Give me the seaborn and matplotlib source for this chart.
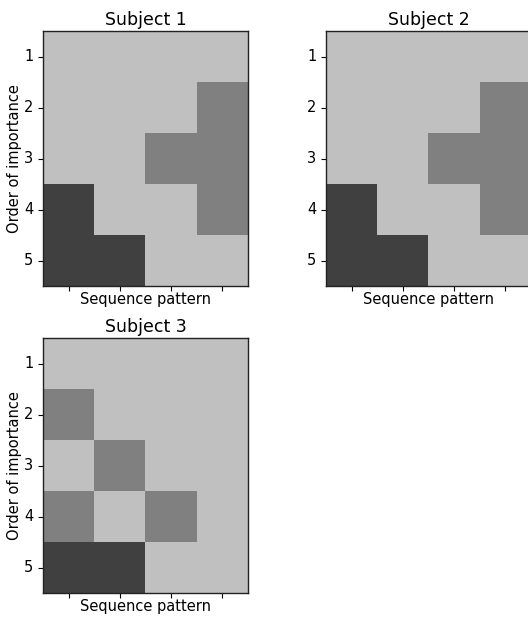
import numpy as np
import pandas as pd
import seaborn as sns
import matplotlib
matplotlib.use("Agg")
import matplotlib.pyplot as plt

# gray level of each cell (rows = order of importance 1..5, cols = sequence pattern)
subject_1 = [[0.75, 0.75, 0.75, 0.75],
             [0.75, 0.75, 0.75, 0.50],
             [0.75, 0.75, 0.50, 0.50],
             [0.25, 0.75, 0.75, 0.50],
             [0.25, 0.25, 0.75, 0.75]]
subject_2 = [[0.75, 0.75, 0.75, 0.75],
             [0.75, 0.75, 0.75, 0.50],
             [0.75, 0.75, 0.50, 0.50],
             [0.25, 0.75, 0.75, 0.50],
             [0.25, 0.25, 0.75, 0.75]]
subject_3 = [[0.75, 0.75, 0.75, 0.75],
             [0.50, 0.75, 0.75, 0.75],
             [0.75, 0.50, 0.75, 0.75],
             [0.50, 0.75, 0.50, 0.75],
             [0.25, 0.25, 0.75, 0.75]]
titles = ["Subject 1", "Subject 2", "Subject 3"]
order_labels = ["1", "2", "3", "4", "5"]

fig = plt.figure(figsize=(5.28, 6.2), dpi=100)
# axes positions in figure fraction (second panel runs off the right edge)
positions = [[0.0814, 0.5387, 0.3883, 0.4113],
             [0.6174, 0.5387, 0.3883, 0.4113],
             [0.0814, 0.0435, 0.3883, 0.4113]]

for i, (data, title) in enumerate(zip([subject_1, subject_2, subject_3], titles)):
    ax = fig.add_axes(positions[i])
    df = pd.DataFrame(data, index=order_labels)
    sns.heatmap(df, ax=ax, cmap="gray", vmin=0, vmax=1, cbar=False,
                xticklabels=False, yticklabels=order_labels)
    ax.set_xticks(np.arange(4) + 0.5)
    ax.set_xticklabels([])
    ax.set_yticks(np.arange(5) + 0.5)
    ax.set_yticklabels(order_labels, rotation=0, fontsize=10.5)
    ax.tick_params(length=3.5, width=0.8, colors="black")
    for s in ax.spines.values():
        s.set_visible(True)
        s.set_linewidth(1.0)
        s.set_color("#222222")
    ax.set_title(title, fontsize=12.5, pad=4)
    ax.set_xlabel("Sequence pattern", fontsize=10.5, labelpad=-2.5)
    if i != 1:
        ax.set_ylabel("Order of importance", fontsize=10.5, labelpad=1)
    else:
        ax.set_ylabel("")

fig.savefig("out.png", dpi=100)
